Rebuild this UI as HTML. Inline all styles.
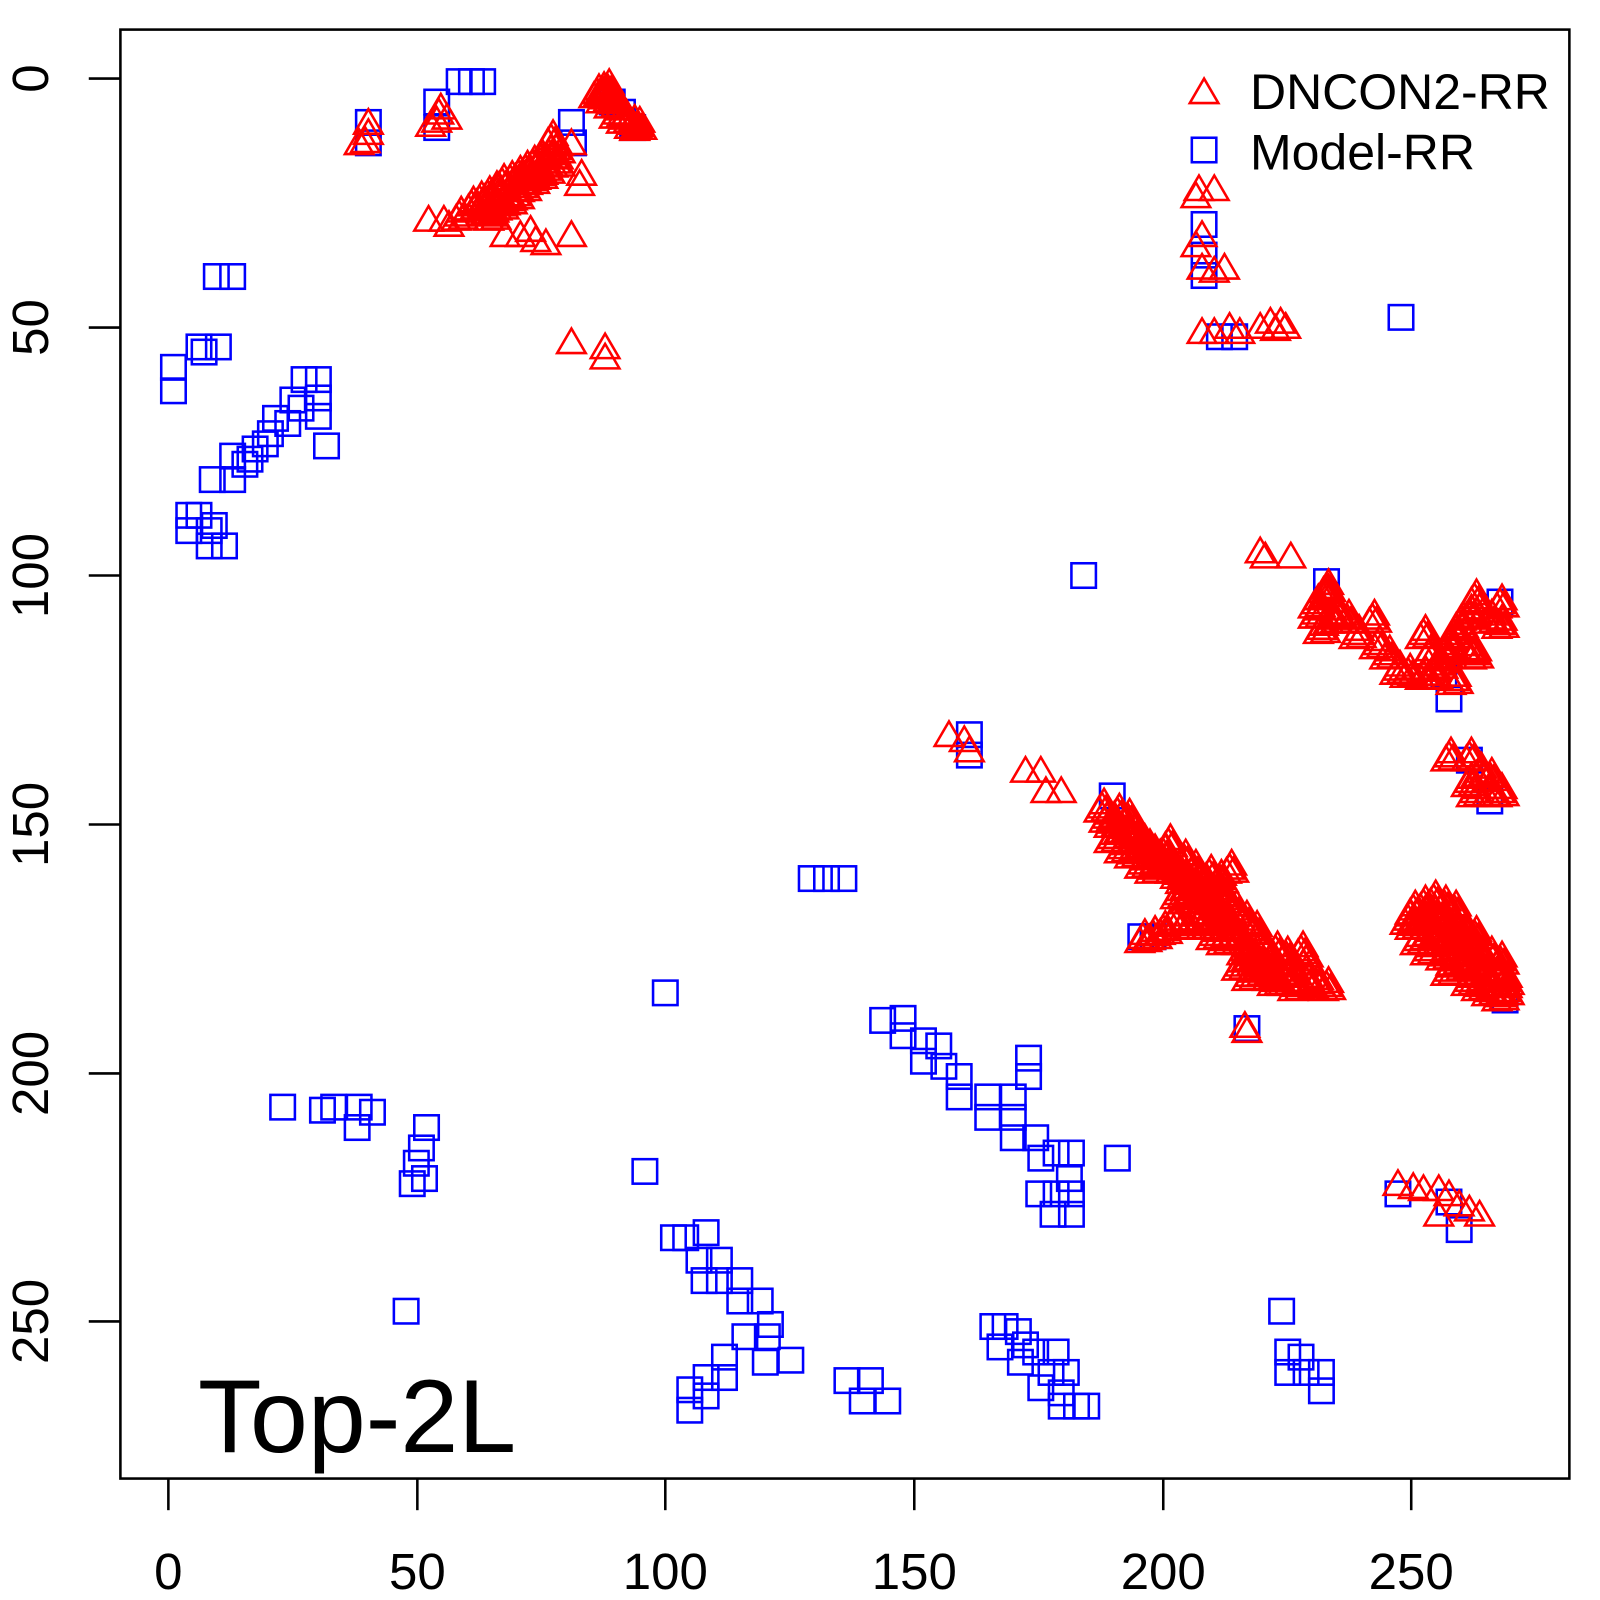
<!DOCTYPE html>
<html><head><meta charset="utf-8"><style>body{margin:0;background:#fff}svg{display:block}text{font-family:"Liberation Sans",Arial,sans-serif}</style></head>
<body>
<svg width="1600" height="1600" viewBox="0 0 1600 1600" xmlns="http://www.w3.org/2000/svg">
<defs>
<rect id="s" x="-12" y="-12" width="24" height="24" fill="none" stroke="#00f" stroke-width="2.5"/>
<path id="t" d="M0,-13 L14,11 L-14,11Z" fill="none" stroke="#f00" stroke-width="2.5"/>
</defs>
<g transform="scale(1.0204)">
<rect x="118" y="29" width="1420" height="1420" fill="none" stroke="#000" stroke-width="2.5"/>
<g stroke="#000" stroke-width="2.5">
<line x1="165" y1="1449" x2="165" y2="1480"/><line x1="409" y1="1449" x2="409" y2="1480"/><line x1="652" y1="1449" x2="652" y2="1480"/><line x1="896" y1="1449" x2="896" y2="1480"/><line x1="1140" y1="1449" x2="1140" y2="1480"/><line x1="1383" y1="1449" x2="1383" y2="1480"/>
<line x1="118" y1="77" x2="87" y2="77"/><line x1="118" y1="321" x2="87" y2="321"/><line x1="118" y1="564" x2="87" y2="564"/><line x1="118" y1="808" x2="87" y2="808"/><line x1="118" y1="1052" x2="87" y2="1052"/><line x1="118" y1="1295" x2="87" y2="1295"/>
</g>
<g font-size="50" text-anchor="middle" fill="#000">
<text x="165" y="1557">0</text><text x="409" y="1557">50</text><text x="652" y="1557">100</text><text x="896" y="1557">150</text><text x="1140" y="1557">200</text><text x="1383" y="1557">250</text>
<text transform="translate(47,77) rotate(-90)">0</text>
<text transform="translate(47,321) rotate(-90)">50</text>
<text transform="translate(47,564) rotate(-90)">100</text>
<text transform="translate(47,808) rotate(-90)">150</text>
<text transform="translate(47,1052) rotate(-90)">200</text>
<text transform="translate(47,1295) rotate(-90)">250</text>
</g>
<text x="194" y="1423" font-size="102">Top-2L</text>
<use href="#t" x="1180" y="90"/><use href="#s" x="1180" y="147"/>
<text x="1225" y="107" font-size="49">DNCON2-RR</text>
<text x="1225" y="166" font-size="49">Model-RR</text>
<g>
<use href="#s" x="361" y="120"/><use href="#s" x="361" y="140"/><use href="#s" x="428" y="100"/><use href="#s" x="428" y="125"/><use href="#s" x="450" y="80"/><use href="#s" x="462" y="80"/><use href="#s" x="473" y="80"/><use href="#s" x="560" y="120"/><use href="#s" x="562" y="140"/><use href="#s" x="600" y="100"/><use href="#s" x="610" y="110"/><use href="#s" x="620" y="125"/>
<use href="#s" x="212" y="271"/><use href="#s" x="228" y="271"/><use href="#s" x="170" y="360"/><use href="#s" x="170" y="383"/><use href="#s" x="195" y="340"/><use href="#s" x="200" y="345"/><use href="#s" x="214" y="340"/><use href="#s" x="298" y="372"/><use href="#s" x="312" y="372"/><use href="#s" x="312" y="390"/><use href="#s" x="312" y="408"/><use href="#s" x="287" y="392"/><use href="#s" x="295" y="400"/><use href="#s" x="282" y="415"/><use href="#s" x="270" y="410"/><use href="#s" x="265" y="425"/><use href="#s" x="260" y="435"/><use href="#s" x="250" y="440"/><use href="#s" x="245" y="450"/><use href="#s" x="240" y="455"/><use href="#s" x="320" y="437"/><use href="#s" x="228" y="447"/><use href="#s" x="228" y="470"/><use href="#s" x="208" y="470"/><use href="#s" x="185" y="505"/><use href="#s" x="195" y="505"/><use href="#s" x="185" y="520"/><use href="#s" x="205" y="520"/><use href="#s" x="210" y="515"/><use href="#s" x="205" y="535"/><use href="#s" x="220" y="535"/>
<use href="#s" x="1062" y="564"/><use href="#s" x="1373" y="311"/><use href="#s" x="1180" y="250"/><use href="#s" x="1180" y="270"/><use href="#s" x="1195" y="330"/><use href="#s" x="1210" y="330"/><use href="#s" x="1180" y="220"/>
<use href="#s" x="795" y="861"/><use href="#s" x="810" y="861"/><use href="#s" x="827" y="861"/><use href="#s" x="652" y="973"/><use href="#s" x="632" y="1148"/><use href="#s" x="277" y="1085"/><use href="#s" x="316" y="1088"/><use href="#s" x="327" y="1085"/><use href="#s" x="352" y="1085"/><use href="#s" x="365" y="1090"/><use href="#s" x="350" y="1105"/><use href="#s" x="418" y="1105"/><use href="#s" x="413" y="1125"/><use href="#s" x="408" y="1140"/><use href="#s" x="404" y="1160"/><use href="#s" x="416" y="1155"/><use href="#s" x="398" y="1285"/>
<use href="#s" x="865" y="1000"/><use href="#s" x="885" y="998"/><use href="#s" x="885" y="1015"/><use href="#s" x="905" y="1020"/><use href="#s" x="905" y="1040"/><use href="#s" x="920" y="1025"/><use href="#s" x="925" y="1045"/><use href="#s" x="940" y="1055"/><use href="#s" x="940" y="1075"/><use href="#s" x="968" y="1075"/><use href="#s" x="968" y="1095"/><use href="#s" x="993" y="1075"/><use href="#s" x="993" y="1095"/><use href="#s" x="993" y="1115"/><use href="#s" x="1008" y="1037"/><use href="#s" x="1008" y="1055"/><use href="#s" x="1015" y="1115"/><use href="#s" x="1020" y="1135"/><use href="#s" x="1035" y="1130"/><use href="#s" x="1050" y="1130"/><use href="#s" x="1048" y="1155"/><use href="#s" x="1035" y="1170"/><use href="#s" x="1018" y="1170"/><use href="#s" x="1050" y="1170"/><use href="#s" x="1032" y="1190"/><use href="#s" x="1050" y="1190"/><use href="#s" x="1095" y="1135"/>
<use href="#s" x="660" y="1213"/><use href="#s" x="672" y="1213"/><use href="#s" x="692" y="1208"/><use href="#s" x="685" y="1235"/><use href="#s" x="705" y="1235"/><use href="#s" x="705" y="1255"/><use href="#s" x="690" y="1255"/><use href="#s" x="725" y="1255"/><use href="#s" x="725" y="1275"/><use href="#s" x="745" y="1275"/><use href="#s" x="755" y="1298"/><use href="#s" x="730" y="1310"/><use href="#s" x="752" y="1310"/><use href="#s" x="775" y="1333"/><use href="#s" x="750" y="1335"/><use href="#s" x="710" y="1330"/><use href="#s" x="710" y="1350"/><use href="#s" x="692" y="1350"/><use href="#s" x="692" y="1368"/><use href="#s" x="676" y="1362"/><use href="#s" x="676" y="1382"/><use href="#s" x="830" y="1353"/><use href="#s" x="853" y="1353"/><use href="#s" x="845" y="1373"/><use href="#s" x="870" y="1373"/>
<use href="#s" x="973" y="1300"/><use href="#s" x="985" y="1300"/><use href="#s" x="998" y="1305"/><use href="#s" x="980" y="1320"/><use href="#s" x="1005" y="1318"/><use href="#s" x="1000" y="1335"/><use href="#s" x="1015" y="1325"/><use href="#s" x="1035" y="1325"/><use href="#s" x="1030" y="1345"/><use href="#s" x="1020" y="1360"/><use href="#s" x="1045" y="1345"/><use href="#s" x="1040" y="1365"/><use href="#s" x="1040" y="1378"/><use href="#s" x="1065" y="1378"/><use href="#s" x="1055" y="1378"/>
<use href="#s" x="1256" y="1285"/><use href="#s" x="1262" y="1325"/><use href="#s" x="1262" y="1345"/><use href="#s" x="1275" y="1330"/><use href="#s" x="1280" y="1345"/><use href="#s" x="1295" y="1345"/><use href="#s" x="1295" y="1363"/>
<use href="#s" x="1415" y="660"/><use href="#s" x="1420" y="685"/><use href="#s" x="1440" y="745"/><use href="#s" x="1460" y="785"/><use href="#s" x="1222" y="1008"/><use href="#s" x="1130" y="918"/><use href="#s" x="1118" y="918"/><use href="#s" x="1370" y="1170"/><use href="#s" x="1430" y="1205"/><use href="#s" x="1420" y="1178"/><use href="#s" x="1300" y="570"/><use href="#s" x="1090" y="780"/><use href="#s" x="950" y="720"/><use href="#s" x="950" y="740"/><use href="#s" x="1470" y="590"/><use href="#s" x="1475" y="980"/>
</g>
<g id="sparse">
<use href="#t" x="352" y="140"/><use href="#t" x="361" y="130"/><use href="#t" x="361" y="120"/><use href="#t" x="358" y="138"/>
<use href="#t" x="430" y="110"/><use href="#t" x="428" y="118"/><use href="#t" x="432" y="105"/><use href="#t" x="422" y="122"/><use href="#t" x="438" y="115"/>
<use href="#t" x="420" y="215"/><use href="#t" x="435" y="215"/><use href="#t" x="440" y="220"/>
<use href="#t" x="495" y="230"/><use href="#t" x="510" y="230"/><use href="#t" x="525" y="235"/><use href="#t" x="535" y="238"/><use href="#t" x="520" y="225"/><use href="#t" x="560" y="230"/><use href="#t" x="568" y="180"/><use href="#t" x="570" y="170"/><use href="#t" x="560" y="140"/><use href="#t" x="560" y="335"/><use href="#t" x="593" y="340"/><use href="#t" x="593" y="350"/>
<use href="#t" x="1175" y="185"/><use href="#t" x="1190" y="185"/><use href="#t" x="1172" y="192"/><use href="#t" x="1178" y="230"/><use href="#t" x="1172" y="240"/><use href="#t" x="1178" y="262"/><use href="#t" x="1190" y="265"/><use href="#t" x="1200" y="262"/><use href="#t" x="1178" y="325"/><use href="#t" x="1190" y="325"/><use href="#t" x="1205" y="320"/><use href="#t" x="1215" y="325"/><use href="#t" x="1235" y="320"/><use href="#t" x="1245" y="315"/><use href="#t" x="1255" y="315"/><use href="#t" x="1260" y="320"/><use href="#t" x="1250" y="322"/>
<use href="#t" x="1235" y="540"/><use href="#t" x="1240" y="545"/><use href="#t" x="1265" y="545"/>
<use href="#t" x="945" y="725"/><use href="#t" x="930" y="720"/><use href="#t" x="950" y="735"/><use href="#t" x="1005" y="755"/><use href="#t" x="1020" y="755"/><use href="#t" x="1025" y="775"/><use href="#t" x="1040" y="775"/>
<use href="#t" x="1370" y="1160"/><use href="#t" x="1385" y="1163"/><use href="#t" x="1395" y="1165"/><use href="#t" x="1410" y="1165"/><use href="#t" x="1420" y="1170"/><use href="#t" x="1430" y="1180"/><use href="#t" x="1440" y="1185"/><use href="#t" x="1450" y="1190"/><use href="#t" x="1410" y="1190"/>
<use href="#t" x="1220" y="1005"/><use href="#t" x="1222" y="1010"/>
</g>
<g id="dense">
<use href="#t" x="450" y="210"/><use href="#t" x="462" y="200"/><use href="#t" x="470" y="195"/><use href="#t" x="478" y="190"/><use href="#t" x="485" y="185"/><use href="#t" x="492" y="178"/><use href="#t" x="500" y="175"/><use href="#t" x="508" y="170"/><use href="#t" x="515" y="165"/><use href="#t" x="522" y="160"/><use href="#t" x="530" y="155"/><use href="#t" x="538" y="150"/><use href="#t" x="545" y="145"/><use href="#t" x="540" y="135"/><use href="#t" x="535" y="165"/><use href="#t" x="520" y="175"/><use href="#t" x="505" y="190"/><use href="#t" x="490" y="200"/><use href="#t" x="475" y="205"/><use href="#t" x="545" y="158"/><use href="#t" x="528" y="170"/><use href="#t" x="512" y="182"/><use href="#t" x="498" y="195"/><use href="#t" x="482" y="210"/>
<use href="#t" x="585" y="90"/><use href="#t" x="592" y="95"/><use href="#t" x="600" y="100"/><use href="#t" x="605" y="110"/><use href="#t" x="612" y="115"/><use href="#t" x="620" y="120"/><use href="#t" x="625" y="122"/><use href="#t" x="595" y="85"/><use href="#t" x="590" y="88"/><use href="#t" x="600" y="95"/>
<use href="#t" x="1300" y="580"/><use href="#t" x="1290" y="600"/><use href="#t" x="1295" y="615"/><use href="#t" x="1310" y="600"/><use href="#t" x="1320" y="605"/><use href="#t" x="1330" y="620"/><use href="#t" x="1345" y="605"/><use href="#t" x="1350" y="630"/><use href="#t" x="1360" y="640"/><use href="#t" x="1370" y="655"/><use href="#t" x="1380" y="658"/><use href="#t" x="1395" y="660"/><use href="#t" x="1405" y="660"/><use href="#t" x="1395" y="620"/><use href="#t" x="1400" y="640"/><use href="#t" x="1410" y="650"/><use href="#t" x="1415" y="640"/><use href="#t" x="1425" y="620"/><use href="#t" x="1430" y="610"/><use href="#t" x="1440" y="600"/><use href="#t" x="1445" y="585"/><use href="#t" x="1450" y="595"/><use href="#t" x="1460" y="605"/><use href="#t" x="1470" y="590"/><use href="#t" x="1470" y="610"/><use href="#t" x="1420" y="630"/><use href="#t" x="1440" y="635"/><use href="#t" x="1445" y="640"/><use href="#t" x="1425" y="665"/><use href="#t" x="1290" y="590"/><use href="#t" x="1305" y="605"/><use href="#t" x="1300" y="575"/>
<use href="#t" x="1420" y="740"/><use href="#t" x="1440" y="740"/><use href="#t" x="1450" y="755"/><use href="#t" x="1460" y="760"/><use href="#t" x="1440" y="765"/><use href="#t" x="1445" y="775"/><use href="#t" x="1460" y="775"/><use href="#t" x="1470" y="775"/>
<use href="#t" x="1080" y="790"/><use href="#t" x="1085" y="800"/><use href="#t" x="1090" y="805"/><use href="#t" x="1095" y="795"/><use href="#t" x="1100" y="810"/><use href="#t" x="1105" y="800"/><use href="#t" x="1110" y="815"/><use href="#t" x="1115" y="820"/><use href="#t" x="1120" y="825"/><use href="#t" x="1125" y="830"/><use href="#t" x="1130" y="835"/><use href="#t" x="1135" y="840"/><use href="#t" x="1140" y="835"/><use href="#t" x="1145" y="845"/><use href="#t" x="1150" y="850"/><use href="#t" x="1155" y="855"/><use href="#t" x="1160" y="860"/><use href="#t" x="1165" y="865"/><use href="#t" x="1170" y="870"/><use href="#t" x="1175" y="875"/><use href="#t" x="1180" y="880"/><use href="#t" x="1185" y="885"/><use href="#t" x="1190" y="890"/><use href="#t" x="1195" y="895"/><use href="#t" x="1200" y="900"/><use href="#t" x="1205" y="905"/><use href="#t" x="1210" y="915"/><use href="#t" x="1215" y="920"/><use href="#t" x="1220" y="930"/><use href="#t" x="1225" y="935"/><use href="#t" x="1230" y="940"/><use href="#t" x="1235" y="945"/><use href="#t" x="1240" y="950"/><use href="#t" x="1245" y="955"/><use href="#t" x="1250" y="960"/><use href="#t" x="1260" y="960"/><use href="#t" x="1270" y="965"/><use href="#t" x="1280" y="960"/><use href="#t" x="1290" y="962"/><use href="#t" x="1300" y="965"/><use href="#t" x="1225" y="955"/><use href="#t" x="1215" y="945"/><use href="#t" x="1235" y="925"/><use href="#t" x="1250" y="930"/><use href="#t" x="1260" y="935"/><use href="#t" x="1275" y="930"/><use href="#t" x="1280" y="940"/><use href="#t" x="1265" y="950"/><use href="#t" x="1245" y="940"/><use href="#t" x="1150" y="900"/><use href="#t" x="1140" y="910"/><use href="#t" x="1130" y="915"/><use href="#t" x="1160" y="905"/><use href="#t" x="1170" y="900"/><use href="#t" x="1180" y="905"/><use href="#t" x="1190" y="915"/><use href="#t" x="1200" y="920"/><use href="#t" x="1165" y="880"/><use href="#t" x="1155" y="875"/><use href="#t" x="1175" y="860"/><use href="#t" x="1185" y="855"/><use href="#t" x="1195" y="860"/><use href="#t" x="1205" y="850"/><use href="#t" x="1130" y="850"/><use href="#t" x="1120" y="845"/><use href="#t" x="1110" y="835"/><use href="#t" x="1100" y="830"/><use href="#t" x="1090" y="820"/><use href="#t" x="1145" y="825"/><use href="#t" x="1160" y="840"/><use href="#t" x="1170" y="850"/><use href="#t" x="1180" y="865"/><use href="#t" x="1190" y="870"/><use href="#t" x="1200" y="880"/><use href="#t" x="1210" y="890"/><use href="#t" x="1220" y="900"/><use href="#t" x="1230" y="910"/><use href="#t" x="1120" y="918"/>
<use href="#t" x="1385" y="890"/><use href="#t" x="1395" y="885"/><use href="#t" x="1405" y="880"/><use href="#t" x="1415" y="885"/><use href="#t" x="1425" y="890"/><use href="#t" x="1385" y="905"/><use href="#t" x="1395" y="900"/><use href="#t" x="1405" y="895"/><use href="#t" x="1415" y="900"/><use href="#t" x="1425" y="905"/><use href="#t" x="1435" y="910"/><use href="#t" x="1445" y="915"/><use href="#t" x="1390" y="920"/><use href="#t" x="1400" y="915"/><use href="#t" x="1410" y="915"/><use href="#t" x="1420" y="920"/><use href="#t" x="1430" y="925"/><use href="#t" x="1440" y="930"/><use href="#t" x="1450" y="935"/><use href="#t" x="1460" y="935"/><use href="#t" x="1470" y="940"/><use href="#t" x="1400" y="930"/><use href="#t" x="1415" y="935"/><use href="#t" x="1425" y="940"/><use href="#t" x="1435" y="945"/><use href="#t" x="1445" y="950"/><use href="#t" x="1455" y="955"/><use href="#t" x="1465" y="955"/><use href="#t" x="1475" y="960"/><use href="#t" x="1420" y="950"/><use href="#t" x="1440" y="960"/><use href="#t" x="1450" y="965"/><use href="#t" x="1460" y="970"/><use href="#t" x="1470" y="975"/><use href="#t" x="1395" y="895"/><use href="#t" x="1380" y="900"/><use href="#t" x="1475" y="970"/>
</g>
<use href="#dense" x="4" y="3"/>
<use href="#dense" x="-3" y="4"/>
<use href="#dense" x="2" y="-4"/>
</g>
</svg>
</body></html>
